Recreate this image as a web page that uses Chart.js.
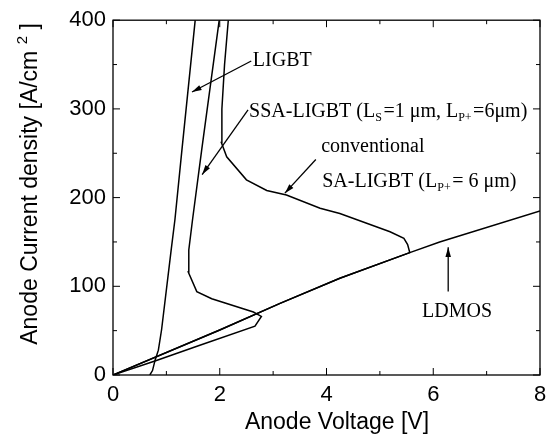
<!DOCTYPE html>
<html>
<head>
<meta charset="utf-8">
<script src="https://cdn.jsdelivr.net/npm/chart.js@4/dist/chart.umd.min.js"></script>
<style>
  html, body { margin: 0; padding: 0; background: #fff; }
  #wrap { width: 555px; height: 441px; }
</style>
</head>
<body>
<div id="wrap"><canvas id="chart" width="555" height="441"></canvas></div>
<script>
// Values: anode voltage [V] / current density [A/cm2]
const LDMOS_V = [0, 2.0, 3.13, 4.25, 5.56, 6.12, 8.0];
const LDMOS_J = [0, 50.7, 80.7, 109, 138, 150, 185];

const CONV_V = [0, 2.0, 3.13, 4.25, 5.56, 5.52, 5.45, 5.19, 4.25, 3.88, 3.25, 2.88, 2.5, 2.13, 2.03, 2.04, 2.09, 2.16];
const CONV_J = [0, 50.7, 80.7, 109, 138, 147, 154, 161.5, 182, 188, 203, 208, 220, 246, 262, 300, 350, 400];

const SSA_V = [0, 0.8, 1.6, 2.66, 2.78, 2.63, 1.85, 1.57, 1.41, 1.42, 1.49, 1.66, 1.99];
const SSA_J = [0, 16, 33, 55, 66, 71, 86, 94, 116, 141, 175, 253, 400];

const LIGBT_V = [0.69, 0.74, 0.79, 0.85, 0.91, 1.09, 1.16, 1.29, 1.54];
const LIGBT_J = [0, 5, 17, 28, 51, 141, 175, 253, 400];

const X_TICKS = [0, 2, 4, 6, 8];
const Y_TICKS = [0, 100, 200, 300, 400];

function pts(xs, ys) {
    return xs.map((x, i) => ({ x: x, y: ys[i] }));
}

function line(data) {
    return {
        data: data,
        showLine: true,
        borderColor: "#000",
        borderWidth: 1.5,
        pointRadius: 0,
        fill: false,
        tension: 0
    };
}

const SANS = "'Liberation Sans', Arial, sans-serif";
const SERIF = "'Liberation Serif', 'Times New Roman', serif";

// text segments: [text, sub?]
const notes = [
    { x: 2.62, y: 348, parts: [["LIGBT"]] },
    { x: 2.55, y: 291, parts: [["SSA-LIGBT (L"], ["S", 1], ["=1 \u03bcm, L"], ["P+", 1], ["=6\u03bcm)"]] },
    { x: 3.9, y: 251, parts: [["conventional"]] },
    { x: 3.92, y: 212, parts: [["SA-LIGBT (L"], ["P+", 1], ["= 6 \u03bcm)"]] },
    { x: 5.79, y: 65, parts: [["LDMOS"]] }
];
const arrows = [
    [2.59, 354, 1.48, 319],
    [2.53, 299, 1.67, 226],
    [3.80, 243, 3.22, 205],
    [6.28, 94, 6.28, 144]
];

const decor = {
    id: "decor",
    afterDraw(c) {
        const ctx = c.ctx, a = c.chartArea;
        const sx = c.scales.x, sy = c.scales.y;
        ctx.save();
        ctx.strokeStyle = "#000";
        ctx.fillStyle = "#000";
        ctx.lineWidth = 1.3;
        ctx.strokeRect(a.left, a.top, a.right - a.left, a.bottom - a.top);

        // inward ticks on all four sides
        ctx.lineWidth = 1;
        ctx.beginPath();
        for (let v = 0; v <= 8; v += 1) {
            const px = sx.getPixelForValue(v);
            const len = v % 2 === 0 ? 7 : 4;
            ctx.moveTo(px, a.bottom); ctx.lineTo(px, a.bottom - len);
            ctx.moveTo(px, a.top); ctx.lineTo(px, a.top + len);
        }
        for (let v = 0; v <= 400; v += 50) {
            const py = sy.getPixelForValue(v);
            const len = v % 100 === 0 ? 7 : 4;
            ctx.moveTo(a.left, py); ctx.lineTo(a.left + len, py);
            ctx.moveTo(a.right, py); ctx.lineTo(a.right - len, py);
        }
        ctx.stroke();

        // annotations
        ctx.textBaseline = "alphabetic";
        notes.forEach(n => {
            let px = sx.getPixelForValue(n.x);
            const py = sy.getPixelForValue(n.y);
            n.parts.forEach(p => {
                if (p[1]) {
                    ctx.font = "12px " + SERIF;
                    ctx.fillText(p[0], px, py + 4);
                } else {
                    ctx.font = "20px " + SERIF;
                    ctx.fillText(p[0], px, py);
                }
                px += ctx.measureText(p[0]).width + (p[1] ? 1.5 : 0);
            });
        });

        ctx.lineWidth = 1.3;
        arrows.forEach(r => {
            const x0 = sx.getPixelForValue(r[0]), y0 = sy.getPixelForValue(r[1]);
            const x1 = sx.getPixelForValue(r[2]), y1 = sy.getPixelForValue(r[3]);
            const ang = Math.atan2(y1 - y0, x1 - x0);
            ctx.beginPath();
            ctx.moveTo(x0, y0); ctx.lineTo(x1, y1);
            ctx.stroke();
            ctx.beginPath();
            ctx.moveTo(x1, y1);
            ctx.lineTo(x1 - 10 * Math.cos(ang - 0.28), y1 - 10 * Math.sin(ang - 0.28));
            ctx.lineTo(x1 - 10 * Math.cos(ang + 0.28), y1 - 10 * Math.sin(ang + 0.28));
            ctx.closePath();
            ctx.fill();
        });

        // axis titles
        ctx.font = "23px " + SANS;
        ctx.textAlign = "center";
        ctx.textBaseline = "middle";
        ctx.fillText("Anode Voltage [V]", 337, 423);

        ctx.translate(31, 184);
        ctx.rotate(-Math.PI / 2);
        const main = "Anode Current density [A/cm ";
        const w1 = ctx.measureText(main).width;
        ctx.font = "15px " + SANS;
        const w2 = ctx.measureText("2").width;
        ctx.font = "23px " + SANS;
        const w3 = ctx.measureText(" ]").width;
        let x = -(w1 + w2 + w3) / 2;
        ctx.textAlign = "left";
        ctx.fillText(main, x, 0);
        x += w1;
        ctx.font = "15px " + SANS;
        ctx.fillText("2", x, -8);
        x += w2;
        ctx.font = "23px " + SANS;
        ctx.fillText(" ]", x, 0);
        ctx.restore();
    }
};

chart = new Chart(document.getElementById("chart"), {
    type: "scatter",
    data: {
        datasets: [
            line(pts(LDMOS_V, LDMOS_J)),
            line(pts(CONV_V, CONV_J)),
            line(pts(SSA_V, SSA_J)),
            line(pts(LIGBT_V, LIGBT_J))
        ]
    },
    options: {
        responsive: false,
        animation: false,
        layout: { padding: { left: 0, right: 15, top: 20, bottom: 0 } },
        plugins: { legend: { display: false }, tooltip: { enabled: false } },
        scales: {
            x: {
                type: "linear", min: 0, max: 8,
                afterFit: s => { s.height = 66; },
                afterBuildTicks: s => { s.ticks = X_TICKS.map(v => ({ value: v })); },
                grid: { display: false, drawTicks: false },
                border: { display: false },
                ticks: { color: "#000", padding: 7, font: { family: SANS, size: 22 } }
            },
            y: {
                type: "linear", min: 0, max: 400,
                afterFit: s => { s.width = 113; },
                afterBuildTicks: s => { s.ticks = Y_TICKS.map(v => ({ value: v })); },
                grid: { display: false, drawTicks: false },
                border: { display: false },
                ticks: { color: "#000", padding: 7, font: { family: SANS, size: 22 } }
            }
        }
    },
    plugins: [decor]
});
</script>
</body>
</html>
